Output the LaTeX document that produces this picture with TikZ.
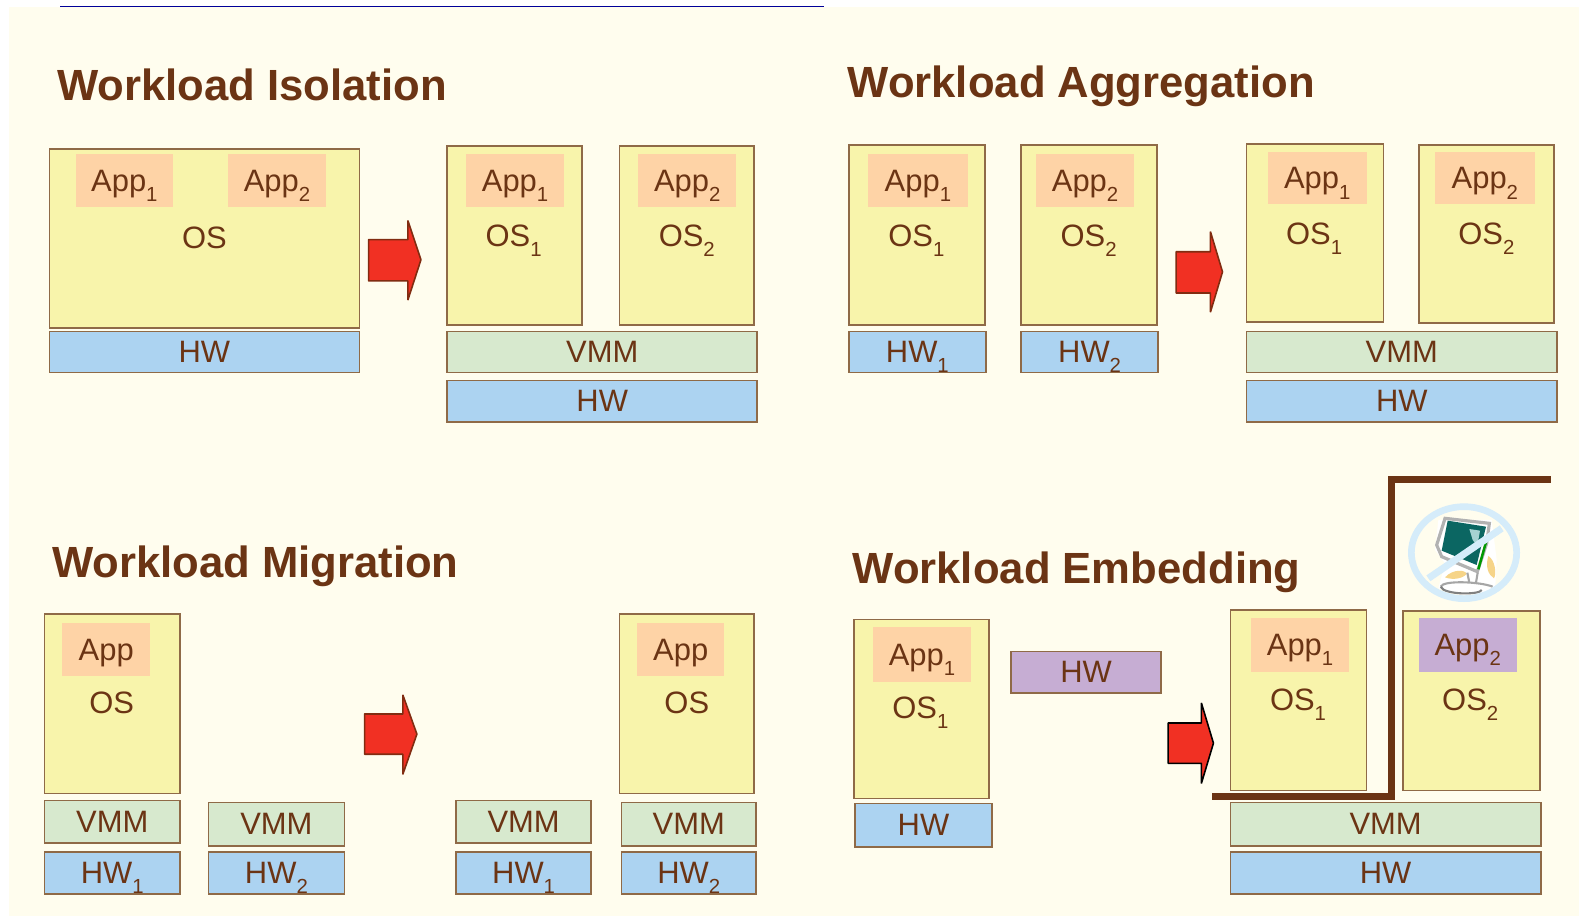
\documentclass[tikz,border=0pt]{standalone}
\usepackage{fontspec}
\setmainfont{Liberation Sans}
\definecolor{brun}{HTML}{6B3414}
\definecolor{trait}{HTML}{8F6A47}
\definecolor{fond}{HTML}{FFFDEE}
\definecolor{jaune}{HTML}{F8F4AB}
\definecolor{peche}{HTML}{FED3A6}
\definecolor{bleu}{HTML}{ACD3F1}
\definecolor{vert}{HTML}{D7E9CE}
\definecolor{mauve}{HTML}{C6ADD3}
\definecolor{rouge}{HTML}{F13023}
\definecolor{ciel}{HTML}{D5ECFA}
\definecolor{sable}{HTML}{F6D488}
\definecolor{ecran}{HTML}{0B6662}
\newcommand{\bas}[1]{\raisebox{-0.62ex}{\fontsize{5.8}{6}\selectfont #1}}
\newcommand{\bx}[7]{\node[#1,minimum width={(#5-#3)*0.01007cm},minimum height={(#6-#4)*0.01007cm}] (#2) at ({(#3+#5)/2},{(#4+#6)/2}) {#7};}
\tikzset{
    couche/.style={rectangle,draw=trait,line width=0.45pt,inner sep=0pt,outer sep=0pt,text=brun,text depth=-0.3pt,font=\fontsize{8.8}{10}\selectfont},
    os/.style={couche,fill=jaune},
    hw/.style={couche,fill=bleu},
    vmm/.style={couche,fill=vert},
    hwm/.style={couche,fill=mauve},
    app/.style={couche,draw=none,fill=peche,text depth=-0.9pt},
    appm/.style={couche,draw=none,fill=mauve,text depth=-0.9pt},
    texte/.style={text=brun,inner sep=0pt,text depth=0pt,font=\fontsize{8.8}{10}\selectfont},
    titre/.style={anchor=base west,text=brun,inner sep=0pt,font=\bfseries\fontsize{12.42}{14}\selectfont},
    fleche/.style={fill=rouge,draw=brun!85!red,line width=0.45pt,line join=bevel},
    mur/.style={draw=brun,line width=2pt,line join=miter},
  }
\begin{document}
\begin{tikzpicture}[x=0.01007cm,y=-0.01007cm]
  \useasboundingbox (0,0) rectangle (1568,911);
  \fill[white] (0,0) rectangle (1568,911);
  \fill[fond] (9,7) rectangle (1568,910);
  \coordinate (ligneA) at (60,6.5);
  \coordinate (ligneB) at (818,6.5);
  \draw[blue!60!black,line width=0.35pt] (ligneA) -- (ligneB);
  % isolation
  \node[titre] (tiso) at (56,100) {Workload Isolation};
  \bx{os}{isoOS}{49}{148}{357}{326}{}
  \bx{app}{isoA}{75}{153}{172}{206}{App\bas{1}}
  \bx{app}{isoB}{226}{153}{324}{206}{App\bas{2}}
  \node[texte] (isoT) at (203,236) {OS};
  \bx{hw}{isoH}{49}{329}{357}{370}{HW}
  \draw[fleche] (366,238) -- (405,238) -- (405,219) -- (418,258) -- (405,298) -- (405,279) -- (366,279) -- cycle;
  \bx{os}{isoOa}{444}{145}{578}{323}{}
  \bx{app}{isoAa}{463}{153}{560}{206}{App\bas{1}}
  \node[texte] (isoTa) at (510,234) {OS\bas{1}};
  \bx{os}{isoOb}{615}{145}{749}{323}{}
  \bx{app}{isoAb}{634}{153}{731}{206}{App\bas{2}}
  \node[texte] (isoTb) at (682,234) {OS\bas{2}};
  \bx{vmm}{isoV}{444}{329}{752}{370}{VMM}
  \bx{hw}{isoHb}{444}{378}{752}{419}{HW}
  % aggregation
  \node[titre] (tagg) at (841,97) {Workload Aggregation};
  \bx{os}{aggOa}{843}{144}{978}{323}{}
  \bx{app}{aggAa}{862}{153}{961}{206}{App\bas{1}}
  \node[texte] (aggTa) at (910,234) {OS\bas{1}};
  \bx{os}{aggOb}{1014}{144}{1149}{323}{}
  \bx{app}{aggAb}{1029}{153}{1126}{206}{App\bas{2}}
  \node[texte] (aggTb) at (1081,234) {OS\bas{2}};
  \bx{hw}{aggHa}{843}{329}{979}{370}{HW\bas{1}}
  \bx{hw}{aggHb}{1014}{329}{1150}{370}{HW\bas{2}}
  \draw[fleche] (1168,250) -- (1202,250) -- (1202,230) -- (1214,270) -- (1202,310) -- (1202,291) -- (1168,291) -- cycle;
  \bx{os}{aggOc}{1238}{143}{1374}{320}{}
  \bx{app}{aggAc}{1259}{151}{1357}{203}{App\bas{1}}
  \node[texte] (aggTc) at (1305,232) {OS\bas{1}};
  \bx{os}{aggOd}{1409}{144}{1543}{321}{}
  \bx{app}{aggAd}{1425}{151}{1524}{203}{App\bas{2}}
  \node[texte] (aggTd) at (1476,232) {OS\bas{2}};
  \bx{vmm}{aggV}{1238}{329}{1546}{370}{VMM}
  \bx{hw}{aggH}{1238}{378}{1546}{419}{HW}
  % migration
  \node[titre] (tmig) at (51,573) {Workload Migration};
  \bx{os}{migOa}{44}{610}{179}{788}{}
  \bx{app}{migAa}{62}{619}{149}{671}{App}
  \node[texte] (migTa) at (111,698) {OS};
  \bx{vmm}{migVa}{44}{795}{179}{837}{VMM}
  \bx{hw}{migHa}{44}{846}{179}{888}{HW\bas{1}}
  \bx{vmm}{migVb}{207}{797}{342}{840}{VMM}
  \bx{hw}{migHb}{207}{846}{342}{888}{HW\bas{2}}
  \draw[fleche] (362,709) -- (400,709) -- (400,690) -- (414,729) -- (400,769) -- (400,749) -- (362,749) -- cycle;
  \bx{vmm}{migVc}{453}{795}{587}{837}{VMM}
  \bx{hw}{migHc}{453}{846}{587}{888}{HW\bas{1}}
  \bx{os}{migOb}{615}{610}{749}{788}{}
  \bx{app}{migAb}{633}{619}{719}{671}{App}
  \node[texte] (migTb) at (682,698) {OS};
  \bx{vmm}{migVd}{617}{797}{751}{840}{VMM}
  \bx{hw}{migHd}{617}{846}{751}{888}{HW\bas{2}}
  % embedding
  \node[titre] (temb) at (846,579) {Workload Embedding};
  \bx{os}{embOa}{848}{615}{982}{793}{}
  \bx{app}{embAa}{867}{623}{964}{677}{App\bas{1}}
  \node[texte] (embTa) at (914,703) {OS\bas{1}};
  \bx{hw}{embHa}{849}{798}{985}{841}{HW}
  \bx{hwm}{embHm}{1004}{647}{1153}{688}{HW}
  \draw[fleche,draw=black] (1160,718) -- (1193,718) -- (1193,698) -- (1205,738) -- (1193,778) -- (1193,758) -- (1160,758) -- cycle;
  \bx{os}{embOb}{1222}{606}{1357}{785}{}
  \bx{app}{embAb}{1242}{614}{1340}{667}{App\bas{1}}
  \node[texte] (embTb) at (1289,695) {OS\bas{1}};
  \bx{os}{embOc}{1393}{607}{1529}{785}{}
  \bx{appm}{embAc}{1409}{614}{1506}{667}{App\bas{2}}
  \node[texte] (embTc) at (1460,695) {OS\bas{2}};
  \bx{vmm}{embV}{1222}{797}{1530}{840}{VMM}
  \bx{hw}{embH}{1222}{846}{1530}{888}{HW}
  \coordinate (murA) at (1204,791);
  \coordinate (murB) at (1382,791);
  \coordinate (murC) at (1382,476);
  \coordinate (murD) at (1540,476);
  \draw[mur] (murA) -- (murB) -- (murC) -- (murD);
  % moniteur barre
  \begin{scope}[shift={(1171.8,456.8)},scale=0.331]
    \fill[white] (775,180) -- (935,180) -- (950,300) -- (945,395) -- (850,405) -- (775,385) -- (795,310) -- (765,270) -- cycle;
    \fill[sable] (795,352) .. controls (820,325) and (858,330) .. (860,342) .. controls (845,358) and (815,360) .. (795,352) -- cycle;
    \fill[sable] (925,288) .. controls (945,300) and (950,340) .. (942,355) .. controls (925,345) and (915,320) .. (925,288) -- cycle;
    \draw[gray!60,line width=0.9pt,fill=white] (795,175) -- (928,190) -- (920,250) -- (892,335) -- (785,290) -- (770,255) -- cycle;
    \fill[ecran] (803,182) -- (918,200) -- (890,315) -- (785,272) -- cycle;
    \fill[teal!35!white] (868,207) -- (900,212) -- (892,258) -- (878,240) -- cycle;
    \draw[green!60!black,line width=0.7pt] (922,232) -- (895,328);
    \draw[gray!70,line width=0.6pt] (862,338) -- (868,368) (893,338) -- (888,368);
    \draw[gray!70,line width=0.6pt] (782,380) .. controls (790,360) and (900,365) .. (938,380);
    \draw[gray,line width=0.6pt] (782,380) .. controls (790,405) and (900,405) .. (905,390);
    \draw[ciel,line width=1.9pt] (852,278) ellipse (158 and 138);
    \draw[ciel,line width=2pt] (745,355) -- (965,205);
  \end{scope}
\end{tikzpicture}
\end{document}
